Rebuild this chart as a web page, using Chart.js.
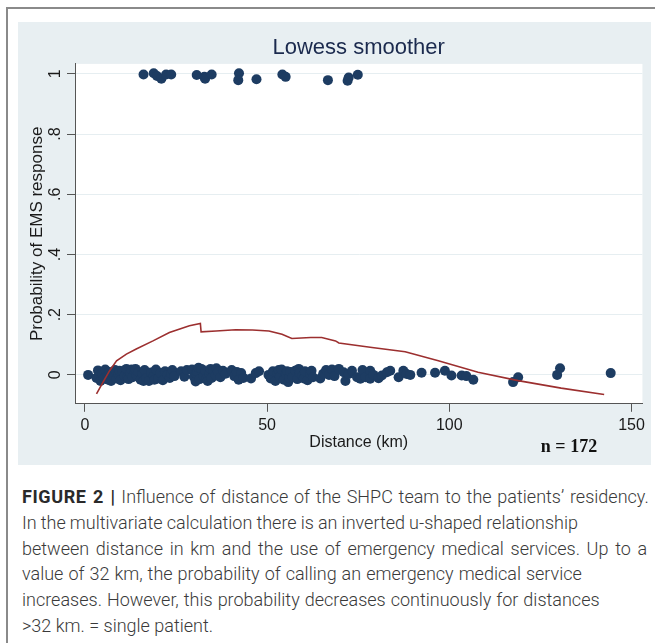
<!DOCTYPE html>
<html>
<head>
<meta charset="utf-8">
<script src="https://cdn.jsdelivr.net/npm/chart.js@4.4.1/dist/chart.umd.min.js"></script>
<style>
  body { margin: 0; background: #fff; width: 655px; height: 643px; position: relative; overflow: hidden; }
  #frameTop { position: absolute; left: 6px; top: 7px; width: 649px; height: 2px; background: #8a8a8a; }
  #frameLeft { position: absolute; left: 6px; top: 7px; width: 2px; height: 636px; background: #8a8a8a; }
  #panel { position: absolute; left: 18px; top: 22px; width: 633px; height: 443px; background: #e8eff2; }
  #n { position: absolute; left: 511px; top: 414px; width: 80px; text-align: center;
       font: bold 18px "Liberation Serif", "DejaVu Serif", serif; color: #111; }
  #caption { position: absolute; left: 22px; top: 484px; width: 640px;
             font: 300 18px Roboto, "Liberation Sans", sans-serif; line-height: 25.8px; color: #3a3a3a;
             white-space: nowrap; }
  #caption b { font-weight: 700; color: #2a2a2a; letter-spacing: 0.6px; }
</style>
</head>
<body>
<div id="frameTop"></div>
<div id="frameLeft"></div>
<div id="panel">
  <canvas id="chart" width="633" height="443"></canvas>
  <div id="n">n = 172</div>
</div>
<div id="caption">
  <div style="word-spacing:1.4px"><b>FIGURE 2 |</b> Influence of distance of the SHPC team to the patients’ residency.</div>
  <div style="word-spacing:-0.3px">In the multivariate calculation there is an inverted u-shaped relationship</div>
  <div style="word-spacing:2.3px">between distance in km and the use of emergency medical services. Up to a</div>
  <div style="word-spacing:0.6px">value of 32 km, the probability of calling an emergency medical service</div>
  <div style="word-spacing:0.6px">increases. However, this probability decreases continuously for distances</div>
  <div>&gt;32 km. = single patient.</div>
</div>

<script>
// patients who called EMS (response = 1, with jitter)
const calledX = [16.1, 18.9, 19.8, 21.0, 22.3, 23.7, 30.7, 32.8, 33.0, 34.8, 42.3, 42.1, 47.1, 54.2, 55.1, 66.7, 72.1, 72.4, 74.9];
const calledY = [0.998, 1.002, 0.993, 0.984, 0.998, 0.998, 0.996, 0.990, 0.984, 0.998, 1.002, 0.979, 0.982, 0.998, 0.990, 0.979, 0.977, 0.988, 0.997];

// patients without EMS response (response = 0, with jitter)
const notCalledX = [
  0.9, 3.2, 3.6, 4.3, 4.8, 5.2,
  5.6, 6.1, 6.4, 6.7, 7.2, 7.8, 8.0, 8.3, 8.7, 9.2, 9.5, 9.8, 10.3, 10.9, 11.4, 11.7, 12.0, 12.5, 12.8,
  13.1, 13.6, 13.9, 14.2, 14.7, 15.3, 15.8, 16.1, 16.4, 16.9,
  17.6, 18.2, 18.9, 19.1, 19.5, 20.1, 20.8, 21.4, 22.0, 22.7, 23.3, 23.7, 24.0, 24.6,
  26.4, 27.3, 28.0,
  29.4, 29.9, 30.4, 30.6, 30.9, 31.2, 31.5, 32.0, 32.6, 33.1, 33.4, 33.7, 34.2, 34.5, 34.8, 35.3, 35.9, 36.1,
  36.5, 37.2, 37.9, 38.6,
  40.3, 41.0, 41.7, 42.2, 42.9, 43.5,
  45.6, 46.9, 47.8,
  50.4, 51.0, 51.6, 52.3, 52.9, 53.2, 53.5, 54.0, 54.6, 55.2, 55.5, 55.8, 56.1, 56.4, 57.0, 57.7, 58.3,
  58.7, 59.0, 59.7, 60.1, 60.4, 61.1, 61.8, 62.2, 62.6,
  64.6, 65.4, 66.2, 67.0, 67.8, 68.5,
  69.7, 71.0, 71.5, 72.4, 73.3, 74.7, 75.6, 76.2, 77.0, 78.3, 78.3, 79.2, 80.6, 81.5, 82.9, 83.8,
  86.1, 87.4, 88.3, 89.3, 92.4, 96.1, 98.8, 100.6, 103.4, 104.7, 106.6,
  117.5, 118.9, 129.6, 130.4, 144.3
];
const notCalledY = [
  0.000, -0.010, 0.015, -0.020, 0.005, -0.012,
  0.018, -0.006, -0.016, 0.010, -0.020, 0.004, -0.004, 0.016, -0.012, 0.002, 0.014, -0.018, 0.012, -0.004, 0.020, -0.006, -0.014, 0.006, 0.018,
  -0.008, 0.014, 0.020, -0.002, 0.010, -0.016, 0.004, -0.020, 0.016, -0.010,
  -0.020, 0.008, -0.004, -0.016, 0.018, -0.012, 0.006, -0.018, 0.012, 0.000, -0.010, 0.004, 0.016, -0.004,
  0.012, -0.006, 0.016,
  0.018, -0.006, -0.022, 0.004, 0.010, 0.024, -0.014, 0.020, -0.004, 0.012, -0.012, -0.020, 0.004, 0.020, -0.010, 0.016, -0.002, 0.022,
  0.012, -0.008, 0.014, 0.004,
  0.016, -0.004, 0.010, -0.016, 0.006, -0.010,
  -0.012, 0.006, 0.012,
  0.000, -0.012, 0.012, -0.020, 0.006, 0.016, -0.006, 0.018, -0.016, 0.004, 0.012, -0.024, -0.010, 0.010, -0.008, 0.014, -0.014,
  0.020, 0.006, -0.004, -0.012, 0.012, -0.018, 0.004, 0.014, -0.008,
  -0.012, 0.004, 0.016, 0.000, 0.018, -0.004,
  0.020, 0.009, -0.020, 0.003, 0.014, -0.008, -0.013, 0.016, -0.008, 0.014, -0.013, 0.000, -0.011, -0.002, 0.009, 0.014,
  -0.008, 0.014, 0.003, 0.000, 0.007, 0.007, 0.014, -0.002, -0.002, -0.004, -0.016,
  -0.024, -0.008, 0.000, 0.022, 0.006
];

// lowess smoother
const lowessX = [3.2, 5.0, 6.8, 8.7, 11.4, 14.1, 18.7, 23.2, 28.7, 31.7, 31.9, 36.0, 41.4, 46.0, 50.5, 54.1, 56.8, 62.0, 65.0, 68.8, 69.7, 78.8, 87.9, 97.0, 107.9, 118.9, 130.7, 142.5];
const lowessY = [-0.063, -0.024, 0.014, 0.047, 0.069, 0.086, 0.113, 0.141, 0.163, 0.171, 0.143, 0.146, 0.150, 0.149, 0.146, 0.135, 0.121, 0.124, 0.124, 0.113, 0.106, 0.091, 0.077, 0.047, 0.009, -0.019, -0.044, -0.065];

const xTicks = [0, 50, 100, 150];
const yTicks = [0, 0.2, 0.4, 0.6, 0.8, 1];
const yTickLabels = ['0', '.2', '.4', '.6', '.8', '1'];

const toPoints = (xs, ys) => xs.map((x, i) => ({ x: x, y: ys[i] }));

const plotBackground = {
  id: 'plotBackground',
  beforeDraw(chart) {
    const { ctx, chartArea: a } = chart;
    ctx.save();
    ctx.fillStyle = '#ffffff';
    ctx.fillRect(a.left, a.top, a.right - a.left, a.bottom - a.top);
    ctx.restore();
  }
};

// Stata style vertical tick labels on the y axis
const rotatedYLabels = {
  id: 'rotatedYLabels',
  afterDraw(chart) {
    const { ctx, chartArea } = chart;
    const yScale = chart.scales.y;
    ctx.save();
    ctx.font = '16px "Liberation Sans", Arial, sans-serif';
    ctx.fillStyle = '#1a1a1a';
    ctx.textAlign = 'center';
    ctx.textBaseline = 'middle';
    yTicks.forEach((v, i) => {
      const py = yScale.getPixelForValue(v);
      ctx.save();
      ctx.translate(chartArea.left - 19, py);
      ctx.rotate(-Math.PI / 2);
      ctx.fillText(yTickLabels[i], 0, 0);
      ctx.restore();
    });
    ctx.restore();
  }
};

const ctx = document.getElementById('chart').getContext('2d');
new Chart(ctx, {
  type: 'scatter',
  data: {
    datasets: [
      {
        type: 'line',
        label: 'Lowess',
        data: toPoints(lowessX, lowessY),
        borderColor: '#9c2f2f',
        borderWidth: 1.6,
        pointRadius: 0,
        tension: 0,
        fill: false
      },
      {
        label: 'EMS response',
        data: toPoints(calledX, calledY),
        backgroundColor: '#1d3c62',
        borderWidth: 0,
        pointRadius: 5
      },
      {
        label: 'No EMS response',
        data: toPoints(notCalledX, notCalledY),
        backgroundColor: '#1d3c62',
        borderWidth: 0,
        pointRadius: 5
      }
    ]
  },
  options: {
    responsive: false,
    animation: false,
    layout: { padding: { left: 0, right: 6, top: 0, bottom: 7 } },
    plugins: {
      legend: { display: false },
      tooltip: { enabled: false },
      title: {
        display: true,
        text: 'Lowess smoother',
        fullSize: false,
        color: '#1b2a4e',
        font: { family: '"Liberation Sans", Arial, sans-serif', size: 22, weight: 'normal', lineHeight: 1.2 },
        padding: { top: 12.3, bottom: 3.2 }
      }
    },
    scales: {
      x: {
        type: 'linear',
        min: -2.7,
        max: 153,
        afterBuildTicks: (scale) => { scale.ticks = xTicks.map(v => ({ value: v })); },
        grid: { drawOnChartArea: false, drawTicks: true, tickLength: 8, tickColor: '#555555', tickWidth: 1 },
        border: { display: true, color: '#555555', width: 1 },
        ticks: {
          padding: 6,
          color: '#1a1a1a',
          maxRotation: 0,
          font: { family: '"Liberation Sans", Arial, sans-serif', size: 16, lineHeight: 1.0 }
        },
        title: {
          display: true,
          text: 'Distance (km)',
          color: '#1a1a1a',
          font: { family: '"Liberation Sans", Arial, sans-serif', size: 16, lineHeight: 1.2 },
          padding: { top: -7, bottom: 6 }
        }
      },
      y: {
        type: 'linear',
        min: -0.096,
        max: 1.033,
        afterBuildTicks: (scale) => { scale.ticks = yTicks.map(v => ({ value: v })); },
        grid: { color: '#e6eef1', lineWidth: 1, drawTicks: true, tickLength: 8, tickColor: '#555555', tickWidth: 1 },
        border: { display: true, color: '#555555', width: 1 },
        ticks: { display: false },
        title: {
          display: true,
          text: 'Probability of EMS response',
          color: '#1a1a1a',
          font: { family: '"Liberation Sans", Arial, sans-serif', size: 17, lineHeight: 1.2 },
          padding: { top: 8.8, bottom: 19.8 }
        }
      }
    }
  },
  plugins: [plotBackground, rotatedYLabels]
});
</script>
</body>
</html>
